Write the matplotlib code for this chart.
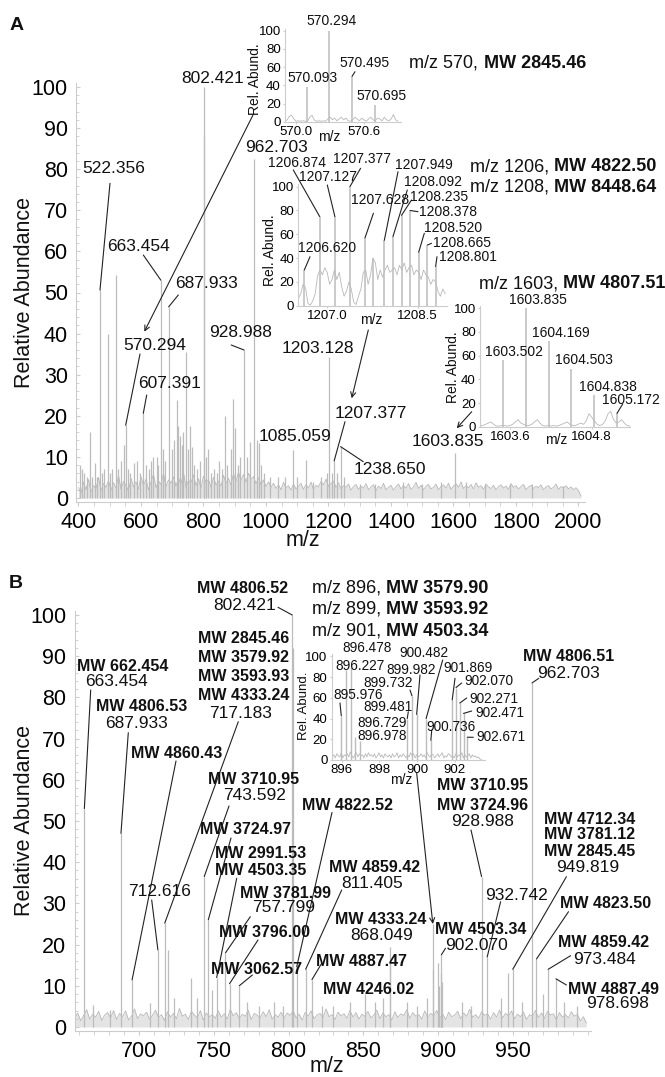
import numpy as np
import matplotlib
matplotlib.use('Agg')
import matplotlib.pyplot as plt
from matplotlib.ticker import MultipleLocator

plt.rcParams['font.family'] = ['Liberation Sans', 'DejaVu Sans']

# ---------------- DATA ----------------
# Panel A main spectrum: peaks (m/z as drawn, relative abundance)
peaks_a_mz = [405, 412, 418, 426, 437, 444, 452, 460, 468.8, 476, 483, 495.5, 502, 508, 520, 528, 535, 545,
              551, 558, 566, 577.6, 586, 596, 607.4, 615, 625, 632, 639.5, 650, 656, 663.5, 670, 678, 688.5,
              698, 706, 714, 718, 724, 730, 736, 743, 750, 757, 762, 770, 780, 790, 802.4, 803.1, 808, 815,
              824, 835, 842, 850, 860, 868.8, 876, 888, 896, 902, 910, 918, 930, 940, 948.5, 962.6, 970, 977,
              985, 995, 1012, 1040, 1060, 1087, 1100, 1128, 1150, 1175, 1195, 1203.1, 1210, 1218, 1228,
              1238.65, 1250, 1300, 1350, 1440, 1500, 1560, 1606, 1640, 1700, 1780, 1850, 1950]
peaks_a_ab = [8, 7, 6, 5, 16, 5, 8.5, 5, 50.6, 6, 7, 40, 6, 7, 54.3, 7, 9, 13,
              17.7, 7, 6, 8.5, 9, 6, 20.6, 8, 7, 9, 10, 10, 8, 53, 12, 9, 46.5,
              12, 14, 23.8, 17.4, 15, 13, 16, 35.6, 12, 17.4, 12.4, 8, 7, 9, 100, 88, 10, 12,
              6, 7, 6, 9, 7, 20, 8, 12, 24, 17, 8, 10, 36, 10, 13.7, 82.6, 14, 13.4,
              8, 6, 5, 5, 5, 11.7, 5, 9.2, 4, 5, 6, 34.4, 6, 9, 6,
              12.5, 5, 3.5, 3.5, 4, 3.5, 4, 11, 4, 3.5, 3.5, 3.5, 3]

# Panel A baseline noise (start m/z 400, step 8)
noise_a_start, noise_a_step = 400, 8
noise_a = [2.5, 1.2, 3.8, 2.0, 4.5, 1.5, 3.0, 2.2, 5.0, 1.8, 3.5, 2.6, 4.2,
           1.9, 3.7, 2.4, 5.5, 2.1, 4.0, 3.1, 1.6, 4.8, 2.7, 3.9, 2.2, 5.2,
           3.0, 4.6, 2.0, 3.8, 5.8, 2.5, 4.1, 3.3, 6.0, 2.8, 4.4, 3.6, 5.1,
           2.9, 4.9, 3.4, 6.2, 2.6, 4.3, 3.7, 5.6, 3.0, 4.7, 2.4, 5.3, 3.8,
           4.5, 2.7, 5.0, 3.2, 4.1, 2.9, 5.5, 3.6, 4.8, 3.1, 5.9, 4.0, 6.3,
           4.4, 5.7, 3.9, 6.0, 4.6, 5.2, 3.5, 4.9, 3.2, 4.4, 2.8, 3.9, 2.6,
           3.6, 2.3, 3.2, 2.0, 3.8, 2.5, 3.0, 1.9, 3.4, 2.2, 2.9, 3.6, 2.1,
           3.3, 2.4, 3.9, 2.0, 3.1, 2.7, 4.0, 3.2, 4.6, 2.8, 3.5, 4.1, 2.6,
           3.7, 2.2, 3.0, 2.6, 3.4, 1.9, 2.8, 3.3, 2.1, 2.9, 2.4, 3.5, 2.0,
           2.7, 3.2, 1.8, 2.9, 2.3, 3.6, 2.0, 2.6, 3.1, 1.9, 2.8, 3.4, 2.2,
           3.0, 2.4, 3.5, 2.1, 2.7, 3.8, 2.3, 3.1, 2.0, 2.9, 3.3, 2.2, 2.6,
           3.4, 2.0, 2.8, 3.2, 2.4, 3.6, 2.1, 2.9, 3.5, 2.6, 3.9, 2.3, 3.0,
           2.5, 3.3, 2.2, 3.7, 2.6, 3.0, 2.1, 3.4, 2.7, 2.3, 3.1, 2.0, 2.8,
           3.2, 2.4, 2.9, 2.1, 3.5, 2.6, 3.0, 2.2, 2.8, 3.3, 2.0, 2.7, 3.1,
           2.3, 2.9, 2.5, 3.2, 2.0, 2.7, 3.0, 2.2, 2.6, 3.4, 2.1, 2.8, 2.4,
           3.0, 2.2, 2.7, 2.0, 2.5, 1.8, 0.5]

# Inset A1 (m/z 570 cluster)
ia1_mz = [570.093, 570.294, 570.495, 570.695]
ia1_ab = [38, 100, 50, 18.3]
ia1_noise_start, ia1_noise_step = 569.90, 0.02
ia1_noise = [0.5, 2, 6, 7, 3, 0.5, 1, 0.5, 1, 0.5, 0.5, 5, 7, 2, 0.5, 1, 0.5, 1, 0.5, 3, 5, 2, 4, 1, 3,
             5, 2, 4, 1, 0.5, 2, 5, 3, 1, 4, 2, 0.5, 3, 5, 2, 1, 4, 3, 1, 5, 2, 1, 3, 8, 2, 0.5]

# Inset A2 (m/z 1206-1208 clusters)
ia2_mz = [1206.620, 1206.874, 1207.127, 1207.377, 1207.628, 1207.76, 1207.949, 1208.092, 1208.235,
          1208.378, 1208.520, 1208.665, 1208.801]
ia2_ab = [30, 75, 75, 100, 57, 40, 55, 58, 76, 80, 45, 51, 33]
ia2_noise_start, ia2_noise_step = 1206.52, 0.04
ia2_noise = [6, 10, 18, 15, 2, 0.5, 4, 10, 25, 30, 26, 32, 28, 18, 22, 30, 22, 28, 16, 8, 12, 20, 14, 3,
             1, 8, 14, 28, 30, 18, 26, 40, 36, 22, 30, 24, 30, 34, 28, 30, 32, 26, 34, 30, 36, 28, 32,
             34, 26, 30, 28, 22, 30, 26, 24, 18, 22, 20, 12, 8, 14, 10]

# Inset A3 (m/z 1603 cluster)
ia3_mz = [1603.502, 1603.835, 1604.169, 1604.503, 1604.838, 1605.172]
ia3_ab = [56, 100, 72, 49, 26.8, 11.3]
ia3_noise_start, ia3_noise_step = 1603.16, 0.04
ia3_noise = [0.5, 1, 2, 3, 4, 2, 0.5, 0.5, 1, 1, 0.5, 1, 2, 4, 6, 3, 2, 1, 1, 2, 4, 6, 3, 1, 0.5, 1, 0.5,
             1, 0.5, 1, 2, 3, 4, 2, 1, 1, 2, 3, 2, 5, 11, 8, 5, 2, 1, 2, 5, 11, 13, 6, 3, 4, 6, 3, 1, 0.5]

# Panel B main spectrum
peaks_b_mz = [663.454, 669.5, 680.7, 687.933, 695.35, 707.4, 712.616, 717.183, 719.6, 723.7, 734.5, 738.8,
              743.592, 746.3, 748.9, 751.9, 757.799, 760.5, 767.0, 772, 780, 790, 796, 802.421, 802.85,
              805.4, 811.405, 815.6, 822, 830, 841, 851, 858, 863, 867.7, 868.049, 879, 886, 892.7, 896.4,
              896.7, 899.7, 900.5, 901.9, 902.07, 902.3, 916, 922, 928.988, 932.742, 941.7, 946.5,
              949.819, 955.9, 962.703, 965.7, 970, 973.484, 978.698, 984.3, 992.8]
peaks_b_ab = [53, 5.3, 4.1, 47, 11.4, 5.7, 18.7, 25.2, 18.7, 7, 12, 7,
              36.5, 26, 9, 12, 18, 10.5, 10, 6, 5, 6, 5, 100, 92,
              14.6, 14, 11.5, 5, 5, 6, 8, 6, 7, 15.7, 19.5, 6, 5, 7, 25,
              14, 15.5, 10, 13, 17.5, 11, 6, 5, 36.5, 17, 7, 13,
              14, 6, 83.5, 16.5, 8, 14, 11.7, 6, 5]
noise_b_start, noise_b_step = 657, 2
noise_b = [2.1, 3.4, 1.5, 2.8, 4.2, 1.9, 3.1, 2.4, 3.8, 1.6, 2.9, 3.5,
           2.2, 4.0, 1.8, 3.3, 2.5, 3.9, 1.7, 2.6, 4.4, 2.0, 3.2, 2.7,
           3.6, 1.9, 2.8, 4.1, 2.3, 3.0, 1.6, 3.7, 2.4, 3.3, 2.0, 4.5,
           2.6, 3.1, 1.8, 3.8, 2.9, 2.2, 4.0, 1.7, 3.4, 2.5, 3.0, 2.1,
           3.9, 2.4, 3.2, 1.9, 4.3, 2.7, 3.5, 2.0, 3.1, 2.6, 4.1, 1.8,
           3.3, 2.9, 2.2, 3.7, 2.5, 4.2, 1.9, 3.0, 2.4, 3.6, 2.1, 3.4,
           2.8, 4.0, 2.2, 3.1, 1.7, 3.5, 2.6, 3.9, 2.0, 2.9, 3.3, 2.3,
           4.4, 2.5, 3.0, 1.8, 3.6, 2.7, 3.2, 2.1, 4.0, 2.4, 3.5, 1.9,
           3.1, 2.6, 3.8, 2.2, 2.9, 4.1, 2.0, 3.4, 2.5, 3.0, 1.7, 3.7,
           2.3, 3.2, 2.8, 4.2, 2.1, 3.5, 2.6, 3.0, 1.9, 3.9, 2.4, 3.3,
           2.7, 4.0, 2.2, 3.1, 1.8, 3.6, 2.5, 2.9, 3.8, 2.0, 3.4, 2.6,
           4.3, 2.3, 3.0, 2.1, 3.7, 2.8, 3.2, 1.9, 3.5, 2.4, 4.1, 2.2,
           3.3, 2.7, 3.9, 2.0, 3.1, 2.5, 3.6, 1.8, 3.0, 2.6, 4.0, 2.3,
           3.4, 2.1, 3.8, 2.9, 3.2, 1.7, 3.5, 2.4, 3.0, 2.2, 3.7, 2.6,
           3.1, 1.5, 2.5, 1.0]

# Inset B (m/z 896-902 clusters)
ib_mz = [895.976, 896.227, 896.478, 896.729, 896.978, 899.481, 899.732, 899.982, 900.482, 900.736,
         901.869, 902.070, 902.271, 902.471, 902.671]
ib_ab = [43, 87, 90, 22, 18, 40, 62, 44, 40, 19, 58, 70, 55, 45, 22]
ib_noise_start, ib_noise_step = 895.5, 0.08
ib_noise = [3, 5, 2, 6, 4, 3, 7, 2, 5, 4, 6, 3, 8, 4, 2, 5, 7, 3, 6, 4, 5, 2, 6, 3, 7, 4, 5, 3, 6, 2,
            4, 7, 3, 5, 2, 6, 4, 3, 5, 2, 6, 3, 4, 7, 2, 5, 3, 6, 4, 2, 5, 3, 7, 4, 6, 2, 5, 3, 4, 6,
            3, 5, 2, 7, 4, 3, 6, 5, 2, 4, 6, 3, 5, 7, 2, 4, 3, 6, 5, 3, 4, 2, 6, 3, 5, 4, 7, 2, 5, 3,
            4, 6, 2, 5, 3, 4, 2, 3, 1, 0.5]

# ---------------- FIGURE ----------------
W, H = 665, 1077
fig = plt.figure(figsize=(W / 100, H / 100), dpi=100)
PEAK_C = '#bcbcbc'
SPINE_C = '#cccccc'
LC = '#222222'


def rect(l, t, r, b):
    return [l / W, 1 - b / H, (r - l) / W, (b - t) / H]


def F(x, y):
    return (x / W, 1 - y / H)


def txt(x, y, s, size=12.5, bold=False, **kw):
    return fig.text(x / W, 1 - y / H, s, ha=kw.pop('ha', 'center'), va=kw.pop('va', 'center'),
                    fontsize=size, fontweight='bold' if bold else 'normal', color='#111111', **kw)


def mixed(ax, x, y, reg, bold, size=13):
    t = txt(x, y, reg, size=size, ha='left')
    ax.annotate(bold, xy=(1, 0.5), xycoords=t, xytext=(3.8, 0), textcoords='offset points',
                ha='left', va='center', fontsize=size, fontweight='bold', color='#111111',
                annotation_clip=False)


def pointer(ax, start, xy, arrow=False):
    ax.annotate('', xy=xy, xycoords='data', xytext=F(*start), textcoords='figure fraction',
                arrowprops=dict(arrowstyle='->' if arrow else '-', color=LC, lw=0.8,
                                shrinkA=0, shrinkB=0, mutation_scale=9),
                annotation_clip=False)


def farrow(ax, p0, p1):
    ax.annotate('', xy=F(*p1), xycoords='figure fraction', xytext=F(*p0), textcoords='figure fraction',
                arrowprops=dict(arrowstyle='->', color=LC, lw=0.8, shrinkA=0, shrinkB=0, mutation_scale=9),
                annotation_clip=False)


def style_main(ax, xlim, xticks, xminor):
    ax.set_xlim(*xlim)
    ax.set_ylim(-1, 101)
    ax.set_facecolor('none')
    for s in ['top', 'right']:
        ax.spines[s].set_visible(False)
    for s in ['left', 'bottom']:
        ax.spines[s].set_color(SPINE_C)
        ax.spines[s].set_linewidth(0.8)
    ax.set_yticks(range(0, 101, 10))
    ax.yaxis.set_minor_locator(MultipleLocator(2))
    ax.set_xticks(xticks)
    ax.xaxis.set_minor_locator(MultipleLocator(xminor))
    ax.tick_params(axis='y', which='both', direction='in', color=SPINE_C, labelsize=15.5, pad=6, length=3)
    ax.tick_params(axis='y', which='minor', length=2)
    ax.tick_params(axis='x', which='both', direction='out', color=SPINE_C, labelsize=15.5, pad=4, length=3)


def style_inset(ax, xlim, xticks, xlabels):
    ax.set_xlim(*xlim)
    ax.set_ylim(0, 102)
    ax.set_facecolor('none')
    for s in ['top', 'right']:
        ax.spines[s].set_visible(False)
    for s in ['left', 'bottom']:
        ax.spines[s].set_color(SPINE_C)
        ax.spines[s].set_linewidth(0.8)
    ax.set_yticks(range(0, 101, 20))
    ax.set_xticks(xticks)
    ax.set_xticklabels(xlabels)
    ax.tick_params(which='both', labelsize=9.5, length=1.5, color=SPINE_C, pad=1.5)


def draw_spec(ax, nstart, nstep, noise, pmz, pab, lw=0.9, fill=True):
    nx = nstart + nstep * np.arange(len(noise))
    if fill:
        ax.fill_between(nx, 0, noise, color='#e4e4e4', lw=0)
    ax.plot(nx, noise, color='#b8b8b8', lw=0.6)
    ax.vlines(pmz, 0, pab, color=PEAK_C, lw=lw)


# ======== PANEL A ========
axA = fig.add_axes(rect(76.3, 82.9, 584.75, 502.1))
style_main(axA, (393, 2020), range(400, 2001, 200), 50)
draw_spec(axA, noise_a_start, noise_a_step, noise_a, peaks_a_mz, peaks_a_ab)
txt(17, 25, 'A', size=14, bold=True)
txt(25, 292, 'Relative Abundance', size=15.5, rotation=90)
txt(303, 540, 'm/z', size=15.5)

mixed(axA, 409.4, 63.3, 'm/z 570,', 'MW 2845.46')
mixed(axA, 470, 166.7, 'm/z 1206,', 'MW 4822.50')
mixed(axA, 470, 187.3, 'm/z 1208,', 'MW 8448.64')
mixed(axA, 478.6, 284, 'm/z 1603,', 'MW 4807.51')

PA = dict(zip(peaks_a_mz, peaks_a_ab))
txt(212.8, 78.3, '802.421')
txt(276, 147.5, '962.703')
txt(113.3, 168.3, '522.356'); pointer(axA, (110, 183.3), (468.8, PA[468.8]))
txt(138.3, 246.7, '663.454'); pointer(axA, (143.3, 255), (663.5, PA[663.5]))
txt(206.3, 284, '687.933'); pointer(axA, (178.3, 295), (688.5, PA[688.5]))
txt(155, 345, '570.294'); pointer(axA, (140, 354), (551, PA[551]))
txt(169.7, 383.3, '607.391'); pointer(axA, (146.7, 395), (607.4, PA[607.4]))
txt(241, 332.7, '928.988'); pointer(axA, (231.2, 345), (930, PA[930]))
txt(318.3, 348.3, '1203.128')
txt(370.8, 413.3, '1207.377'); pointer(axA, (345, 421.7), (1218, PA[1218]))
txt(295, 436.7, '1085.059')
txt(390, 470, '1238.650'); pointer(axA, (363.3, 461.7), (1238.65, PA[1238.65]))
txt(447.6, 442, '1603.835')
farrow(axA, (253, 115), (144.3, 331.7))
farrow(axA, (368.3, 330), (351.7, 398.3))
farrow(axA, (471.7, 411.7), (456.7, 428.3))

# Inset A1
ax1 = fig.add_axes(rect(285, 28.9, 401.3, 121.7))
style_inset(ax1, (569.901, 570.93), [570.0, 570.6], ['570.0', '570.6'])
draw_spec(ax1, ia1_noise_start, ia1_noise_step, ia1_noise, ia1_mz, ia1_ab, lw=1.1, fill=False)
txt(255, 79, 'Rel. Abund.', size=10, rotation=90)
txt(329.3, 136.7, 'm/z', size=10)
txt(312, 78.3, '570.093', size=10)
txt(332, 20.7, '570.294', size=10)
txt(365, 63.3, '570.495', size=10); pointer(ax1, (355, 71.7), (ia1_mz[2], ia1_ab[2]))
txt(381.3, 96, '570.695', size=10)

# Inset A2
ax2 = fig.add_axes(rect(298.3, 184.3, 447, 305.7))
style_inset(ax2, (1206.52, 1208.99), [1207.0, 1208.5], ['1207.0', '1208.5'])
draw_spec(ax2, ia2_noise_start, ia2_noise_step, ia2_noise, ia2_mz, ia2_ab, lw=1.1, fill=False)
txt(270, 250, 'Rel. Abund.', size=10, rotation=90)
txt(371.7, 320, 'm/z', size=10)
ia2_lab = [  # label, text centre px, pointer start px
    ('1206.620', (327.5, 248.3), (310, 256.7)),
    ('1206.874', (297, 163.3), (293.3, 170)),
    ('1207.127', (328.3, 177.3), (327.3, 185)),
    ('1207.377', (361.5, 159.3), (360.6, 168.3)),
    ('1207.628', (380.3, 200), (373.4, 213.3)),
    ('1207.949', (424.3, 165), (398, 171.7)),
    ('1208.092', (433, 181.7), (407.3, 190)),
    ('1208.235', (439, 196.7), (411.5, 200)),
    ('1208.378', (448, 211.7), (418, 211.7)),
    ('1208.520', (452.8, 228.3), (424.3, 233.3)),
    ('1208.665', (462, 243.3), (431.5, 243.3)),
    ('1208.801', (467.5, 256.7), (437, 256.7)),
]
for lab, tp, sp in ia2_lab:
    txt(tp[0], tp[1], lab, size=10)
    i = [f'{m:.3f}' for m in ia2_mz].index(lab)
    pointer(ax2, sp, (ia2_mz[i], ia2_ab[i]))

# Inset A3
ax3 = fig.add_axes(rect(480, 305.9, 630.5, 426.7))
style_inset(ax3, (1603.16, 1605.37), [1603.6, 1604.8], ['1603.6', '1604.8'])
draw_spec(ax3, ia3_noise_start, ia3_noise_step, ia3_noise, ia3_mz, ia3_ab, lw=1.1, fill=False)
txt(453.3, 366.7, 'Rel. Abund.', size=10, rotation=90)
txt(556.7, 440, 'm/z', size=10)
txt(537.5, 300, '1603.835', size=10)
txt(560.8, 333.3, '1604.169', size=10)
txt(514, 351.7, '1603.502', size=10)
txt(584, 360, '1604.503', size=10)
txt(607.5, 386.7, '1604.838', size=10)
txt(631, 400, '1605.172', size=10); pointer(ax3, (622.7, 404), (ia3_mz[5], ia3_ab[5]))

# ======== PANEL B ========
axB = fig.add_axes(rect(74.7, 610.9, 590.8, 1031.1))
style_main(axB, (657, 1002), range(700, 951, 50), 10)
draw_spec(axB, noise_b_start, noise_b_step, noise_b, peaks_b_mz, peaks_b_ab)
txt(16, 583, 'B', size=14, bold=True)
txt(25, 821, 'Relative Abundance', size=15.5, rotation=90)
txt(327, 1067, 'm/z', size=15.5)

mixed(axB, 311.8, 588.3, 'm/z 896,', 'MW 3579.90')
mixed(axB, 311.8, 609.3, 'm/z 899,', 'MW 3593.92')
mixed(axB, 311.8, 631, 'm/z 901,', 'MW 4503.34')

PB = dict(zip(peaks_b_mz, peaks_b_ab))
MWS = 11.5
# (lines: (x, y, text, bold)), pointer start, peak m/z
b_labels = [
    ([(243, 588.3, 'MW 4806.52', 1), (244.6, 606, '802.421', 0)], (278, 607.3), 802.421),
    ([(243.5, 638.3, 'MW 2845.46', 1), (243.5, 657.3, 'MW 3579.92', 1), (243.5, 676.7, 'MW 3593.93', 1),
      (243.5, 696, 'MW 4333.24', 1), (241, 713.3, '717.183', 0)], (238.3, 721.7), 717.183),
    ([(122.3, 666.7, 'MW 662.454', 1), (116.7, 681.7, '663.454', 0)], (90.7, 690), 663.454),
    ([(141.7, 706.7, 'MW 4806.53', 1), (137, 724, '687.933', 0)], (128.3, 732.7), 687.933),
    ([(176.7, 754, 'MW 4860.43', 1)], (176, 761), 695.35),
    ([(568.5, 656.7, 'MW 4806.51', 1), (569, 673.3, '962.703', 0)], (538.8, 678.3), 962.703),
    ([(253.5, 779.3, 'MW 3710.95', 1), (254.6, 795, '743.592', 0)], (229, 806), 743.592),
    ([(245, 829.3, 'MW 3724.97', 1)], (231, 838), 746.3),
    ([(261, 854, 'MW 2991.53', 1), (261, 870.7, 'MW 4503.35', 1)], (236.7, 878.3), 751.9),
    ([(285, 893.3, 'MW 3781.99', 1), (284, 907.7, '757.799', 0)], (250.3, 916.7), 757.799),
    ([(264.7, 932.3, 'MW 3796.00', 1)], (258, 940), 760.5),
    ([(256.7, 969.3, 'MW 3062.57', 1)], (252.4, 975), 767.0),
    ([(160, 891.7, '712.616', 0)], (151.7, 900), 712.616),
    ([(348, 805, 'MW 4822.52', 1)], (332, 812.5), 805.4),
    ([(374.5, 867.3, 'MW 4859.42', 1), (372, 883.3, '811.405', 0)], (341.7, 890), 811.405),
    ([(361, 961.7, 'MW 4887.47', 1)], (321.7, 963.3), 815.6),
    ([(368.7, 989.3, 'MW 4246.02', 1)], None, None),
    ([(380.8, 919.3, 'MW 4333.24', 1), (382, 935, '868.049', 0)], None, None),
    ([(481, 929.3, 'MW 4503.34', 1), (477, 945.7, '902.070', 0)], (445.5, 948.3), 902.07),
    ([(482.6, 786, 'MW 3710.95', 1), (482.6, 805, 'MW 3724.96', 1), (482.4, 821.7, '928.988', 0)],
     (471, 830), 928.988),
    ([(516, 895, '932.742', 0)], (500.6, 901.7), 932.742),
    ([(589.6, 819.3, 'MW 4712.34', 1), (589.6, 834.3, 'MW 3781.12', 1), (589.6, 851.7, 'MW 2845.45', 1),
      (587.6, 867.3, '949.819', 0)], (566.4, 876.7), 949.819),
    ([(606, 903.3, 'MW 4823.50', 1)], (568.5, 911.7), 965.7),
    ([(604, 942.3, 'MW 4859.42', 1), (604.6, 959, '973.484', 0)], (570.6, 955.7), 973.484),
    ([(614, 990, 'MW 4887.49', 1), (617.7, 1004, '978.698', 0)], (566.4, 985), 978.698),
]
for lines, sp, pk in b_labels:
    for (x, y, s, b) in lines:
        txt(x, y, s, size=MWS if b else 12.5, bold=bool(b))
    if sp is not None:
        pointer(axB, sp, (pk, PB[pk]))

# Inset B
axi = fig.add_axes(rect(331.7, 654.4, 484.8, 760))
style_inset(axi, (895.47, 903.6), [896, 898, 900, 902], ['896', '898', '900', '902'])
draw_spec(axi, ib_noise_start, ib_noise_step, ib_noise, ib_mz, ib_ab, lw=1.0, fill=False)
txt(304, 706, 'Rel. Abund.', size=9.5, rotation=90)
txt(401.7, 780, 'm/z', size=10)
ib_lab = [
    ('895.976', (358.3, 695), (340, 703)),
    ('896.227', (360, 666), None),
    ('896.478', (367, 648.3), None),
    ('896.729', (382, 723.3), None),
    ('896.978', (382, 736), None),
    ('899.481', (388, 706.7), (408.3, 711.7)),
    ('899.732', (388, 683.3), (410, 690)),
    ('899.982', (411.3, 670), (420, 675)),
    ('900.482', (424, 653.3), (442.7, 660)),
    ('900.736', (450.8, 726.7), (431.7, 730)),
    ('901.869', (467.5, 668.3), (455, 678.3)),
    ('902.070', (489, 680.7), (461.7, 683)),
    ('902.271', (494, 699.3), (466.7, 698)),
    ('902.471', (499.5, 712.7), (471.7, 711)),
    ('902.671', (500.5, 737.3), (473.3, 737.3)),
]
for lab, tp, sp in ib_lab:
    txt(tp[0], tp[1], lab, size=9.8)
    if sp is not None:
        i = [f'{m:.3f}' for m in ib_mz].index(lab)
        pointer(axi, sp, (ib_mz[i], ib_ab[i]))
pointer(axB, (416.7, 773.3), (896.4, PB[896.4]), arrow=True)

fig.savefig('out.png', dpi=100)
